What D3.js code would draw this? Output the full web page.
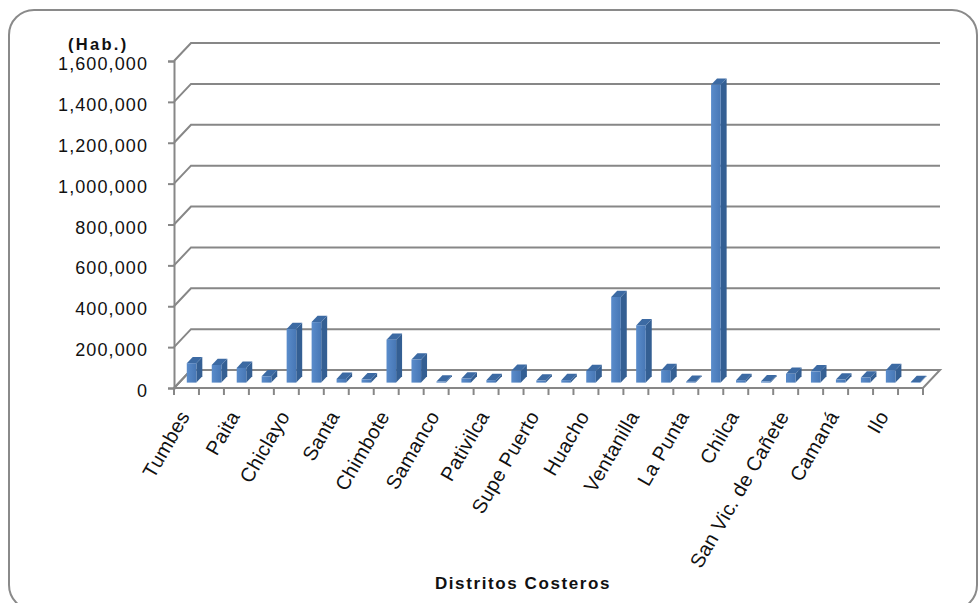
<!DOCTYPE html>
<html>
<head>
<meta charset="utf-8">
<script src="https://cdn.jsdelivr.net/npm/d3@7"></script>
<style>
  html, body { margin: 0; padding: 0; background: #fff; }
  svg { display: block; }
  text { font-family: "Liberation Sans", Arial, sans-serif; }
</style>
</head>
<body>
<svg id="chart" width="978" height="603"></svg>
<script>
// ---- data ----
const categories = [
  "Tumbes", "Talara", "Paita", "Sechura", "Chiclayo", "Trujillo", "Santa", "Coishco",
  "Chimbote", "Nuevo Chimbote", "Samanco", "Casma", "Pativilca", "Barranca", "Supe Puerto",
  "Végueta", "Huacho", "Callao", "Ventanilla", "La Perla", "La Punta", "Lima", "Chilca",
  "Cerro Azul", "San Vic. de Cañete", "Pisco", "Camaná", "Mollendo", "Ilo", "Ite"
];
const population = [
  95000, 86000, 72000, 31000, 262000, 296000, 18000, 16000,
  210000, 113000, 5000, 20000, 12000, 58000, 10000,
  12000, 57000, 419000, 280000, 61000, 4000, 1457000, 12000,
  6000, 43000, 55000, 15000, 25000, 61000, 3000
];
const yTicks = [0, 200000, 400000, 600000, 800000, 1000000, 1200000, 1400000, 1600000];
const yUnit = "(Hab.)";
const xTitle = "Distritos Costeros";

(function () {
// ---- layout ----
const svg = d3.select("#chart");
const pLeft = 174, pRight = 923, pTop = 61, pBottom = 388;
const depthX = 17, depthY = 18;
const P = (xx, yy, d) => [xx + depthX * d, yy - depthY * d];
const poly = pts => pts.map(p => p.join(",")).join(" ");

const x = d3.scaleBand().domain(categories).range([pLeft, pRight]).paddingInner(0).paddingOuter(0);
const y = d3.scaleLinear().domain([0, 1600000]).range([pBottom, pTop]);

const defs = svg.append("defs");
const grad = defs.append("linearGradient").attr("id", "frontGrad")
  .attr("x1", "0").attr("x2", "1").attr("y1", "0").attr("y2", "0");
grad.append("stop").attr("offset", "0").attr("stop-color", "#5a8ccb");
grad.append("stop").attr("offset", "1").attr("stop-color", "#4777b5");

// frame
svg.append("rect").attr("x", 9).attr("y", 10).attr("width", 968).attr("height", 600)
  .attr("rx", 25).attr("ry", 25).attr("fill", "#fff").attr("stroke", "#8a8a8a").attr("stroke-width", 2);

const gridColor = "#878787";

// floor
const floor = [P(pLeft, pBottom, 0), P(pRight, pBottom, 0), P(pRight, pBottom, 1), P(pLeft, pBottom, 1)];
svg.append("polygon").attr("points", poly(floor))
  .attr("fill", "#fff").attr("stroke", gridColor).attr("stroke-width", 2);

// gridlines (left wall diagonal + back wall)
const grid = svg.append("g");
yTicks.forEach(v => {
  const yv = y(v);
  grid.append("polyline").attr("points", poly([P(pLeft, yv, 0), P(pLeft, yv, 1), P(pRight, yv, 1)]))
    .attr("fill", "none").attr("stroke", gridColor).attr("stroke-width", 2);
});

// y axis
const yAxis = d3.axisLeft(y).tickValues(yTicks).tickSize(6).tickPadding(0)
  .tickFormat(d3.format(","));
const gy = svg.append("g").attr("transform", `translate(${pLeft},0)`).call(yAxis);
gy.select(".domain").attr("stroke", gridColor).attr("stroke-width", 2);
gy.selectAll(".tick line").attr("stroke", gridColor).attr("stroke-width", 2);
gy.selectAll(".tick text")
  .attr("x", -26).attr("dy", null).attr("y", 8.5)
  .attr("font-size", 18).attr("fill", "#111").attr("letter-spacing", 1.1)
  .attr("font-family", "'Liberation Sans', Arial, sans-serif");

// x axis line + ticks at band boundaries
const xAxisG = svg.append("g");
xAxisG.append("line").attr("x1", pLeft).attr("x2", pRight).attr("y1", pBottom).attr("y2", pBottom)
  .attr("stroke", gridColor).attr("stroke-width", 2);
categories.concat([null]).forEach(c => {
  const xx = c === null ? pRight : x(c);
  xAxisG.append("line").attr("x1", xx).attr("x2", xx).attr("y1", pBottom).attr("y2", pBottom + 7)
    .attr("stroke", gridColor).attr("stroke-width", 2);
});

// bars
const d0 = 0.3, d1 = 0.65;
const barW = x.bandwidth() * 0.385;
const bars = svg.append("g");
categories.forEach((c, i) => {
  const v = population[i];
  const x0 = x(c) + (x.bandwidth() - barW) / 2, x1 = x0 + barW;
  const yt = y(v), yb = y(0);
  bars.append("polygon").attr("points", poly([P(x1, yt, d0), P(x1, yt, d1), P(x1, yb, d1), P(x1, yb, d0)]))
    .attr("fill", "#345f93");
  bars.append("polygon").attr("points", poly([P(x0, yt, d0), P(x1, yt, d0), P(x1, yt, d1), P(x0, yt, d1)]))
    .attr("fill", "#3c6aa3");
  bars.append("polygon").attr("points", poly([P(x0, yt, d0), P(x1, yt, d0), P(x1, yb, d0), P(x0, yb, d0)]))
    .attr("fill", "url(#frontGrad)");
});

// category labels (every other)
const labels = svg.append("g");
categories.forEach((c, i) => {
  if (i % 2 !== 0) return;
  const cx = x(c) + x.bandwidth() / 2 + 4;
  const cy = 416;
  labels.append("text").attr("transform", `translate(${cx},${cy}) rotate(-60)`)
    .attr("text-anchor", "end").attr("font-size", 20).attr("fill", "#111")
    .attr("letter-spacing", 0.3)
    .text(c);
});

// unit label
svg.append("text").attr("x", 68).attr("y", 50).attr("font-size", 16.5).attr("font-weight", "bold")
  .attr("letter-spacing", 2.3).attr("fill", "#111").text(yUnit);

// x title
svg.append("text").attr("x", 523).attr("y", 589).attr("text-anchor", "middle")
  .attr("font-size", 17).attr("font-weight", "bold").attr("letter-spacing", 1.6)
  .attr("fill", "#111").text(xTitle);
})();
</script>
</body>
</html>
